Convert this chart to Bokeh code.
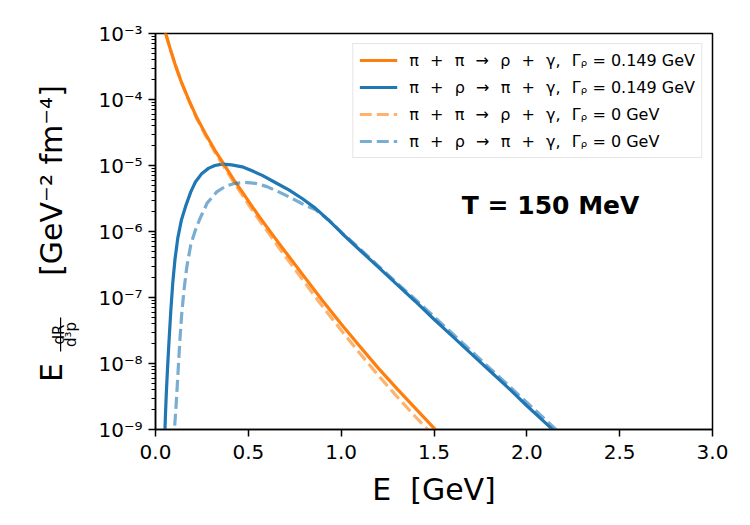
import math
from bokeh.plotting import figure
from bokeh.layouts import row
from bokeh.models import FixedTicker, CustomJSTickFormatter, Label, Legend, LegendItem
from bokeh.core.properties import value
from bokeh.embed import file_html
from bokeh.resources import INLINE

# ---------------- data ----------------
# pi + pi -> rho + gamma, Gamma_rho = 0.149 GeV
E_pipi = [0.03, 0.055, 0.08, 0.108, 0.14, 0.18, 0.22, 0.269, 0.32, 0.368, 0.42,
          0.467, 0.509, 0.56, 0.628, 0.7, 0.8, 0.9, 1.0, 1.1, 1.2, 1.3, 1.4, 1.5, 1.6]
R_pipi_w = [1.78e-3, 1.0e-3, 5.75e-4, 3.24e-4, 1.82e-4, 9.77e-5, 5.5e-5, 3.02e-5,
            1.70e-5, 1.05e-5, 6.17e-6, 3.98e-6, 2.66e-6, 1.66e-6, 9.12e-7, 4.9e-7,
            2.09e-7, 8.91e-8, 3.98e-8, 1.82e-8, 8.51e-9, 4.17e-9, 2.09e-9, 1.05e-9, 5.5e-10]
# pi + pi -> rho + gamma, Gamma_rho = 0
R_pipi_0 = [1.78e-3, 1.0e-3, 5.75e-4, 3.24e-4, 1.82e-4, 9.55e-5, 5.31e-5, 2.88e-5,
            1.59e-5, 9.66e-6, 5.62e-6, 3.60e-6, 2.37e-6, 1.47e-6, 7.94e-7, 4.17e-7,
            1.74e-7, 7.30e-8, 3.20e-8, 1.43e-8, 6.61e-9, 3.16e-9, 1.56e-9, 7.94e-10, 4.0e-10]

# pi + rho -> pi + gamma, Gamma_rho = 0.149 GeV
E_pirho_w = [0.048, 0.051, 0.054, 0.058, 0.064, 0.072, 0.082, 0.093, 0.105, 0.12,
             0.14, 0.162, 0.19, 0.215, 0.25, 0.287, 0.32, 0.359, 0.41, 0.467,
             0.52, 0.575, 0.64, 0.718, 0.79, 0.862, 0.93, 1.005, 1.1, 1.2,
             1.3, 1.4, 1.5, 1.6, 1.7, 1.8, 1.9, 2.0, 2.1, 2.2]
R_pirho_w = [5.01e-10, 1.0e-9, 1.78e-9, 3.39e-9, 7.59e-9, 2.0e-8, 6.03e-8, 1.66e-7, 3.80e-7, 7.94e-7,
             1.51e-6, 2.40e-6, 3.98e-6, 5.62e-6, 7.59e-6, 9.12e-6, 1.0e-5, 1.05e-5, 1.02e-5, 9.55e-6,
             8.32e-6, 7.08e-6, 5.62e-6, 4.27e-6, 3.16e-6, 2.24e-6, 1.51e-6, 9.33e-7, 5.25e-7, 2.88e-7,
             1.58e-7, 8.71e-8, 4.68e-8, 2.57e-8, 1.41e-8, 7.76e-9, 4.27e-9, 2.29e-9, 1.26e-9, 6.92e-10]
# pi + rho -> pi + gamma, Gamma_rho = 0
E_pirho_0 = [0.098, 0.102, 0.110, 0.118, 0.125, 0.132, 0.142, 0.155, 0.168, 0.19,
             0.215, 0.24, 0.278, 0.33, 0.38, 0.431, 0.48, 0.539, 0.6, 0.664,
             0.73, 0.79, 0.862, 0.93, 1.005, 1.1, 1.2, 1.3, 1.4, 1.5,
             1.6, 1.7, 1.8, 1.9, 2.0, 2.1, 2.2]
R_pirho_0 = [6.31e-10, 1.0e-9, 2.09e-9, 5.01e-9, 1.12e-8, 2.40e-8, 6.03e-8, 1.41e-7, 2.82e-7, 6.31e-7,
             1.05e-6, 1.58e-6, 2.69e-6, 3.98e-6, 4.90e-6, 5.37e-6, 5.56e-6, 5.37e-6, 4.79e-6, 3.98e-6,
             3.24e-6, 2.63e-6, 2.14e-6, 1.51e-6, 9.55e-7, 5.50e-7, 3.02e-7, 1.66e-7, 9.33e-8, 5.13e-8,
             2.82e-8, 1.55e-8, 8.51e-9, 4.68e-9, 2.57e-9, 1.41e-9, 7.76e-10]

SP = "\u2002\u2009"  # en + thin space, mimics math spacing
legend_labels = [
    SP.join(["\u03c0", "+", "\u03c0", "\u2192", "\u03c1", "+", "\u03b3,", "\u0393\u1d68 = 0.149 GeV"]),
    SP.join(["\u03c0", "+", "\u03c1", "\u2192", "\u03c0", "+", "\u03b3,", "\u0393\u1d68 = 0.149 GeV"]),
    SP.join(["\u03c0", "+", "\u03c0", "\u2192", "\u03c1", "+", "\u03b3,", "\u0393\u1d68 = 0 GeV"]),
    SP.join(["\u03c0", "+", "\u03c1", "\u2192", "\u03c0", "+", "\u03b3,", "\u0393\u1d68 = 0 GeV"]),
]

x_ticks = [0.0, 0.5, 1.0, 1.5, 2.0, 2.5, 3.0]
x_tick_labels = ["0.0", "0.5", "1.0", "1.5", "2.0", "2.5", "3.0"]
y_ticks = [1e-9, 1e-8, 1e-7, 1e-6, 1e-5, 1e-4, 1e-3]
y_tick_labels = ["10\u207b\u2079", "10\u207b\u2078", "10\u207b\u2077", "10\u207b\u2076",
                 "10\u207b\u2075", "10\u207b\u2074", "10\u207b\u00b3"]

temperature_text = "T = 150 MeV"
x_label = "E \u00a0[GeV]"
y_title_parts = ["E", "dR", "d\u00b3p", "[GeV\u207b\u00b2 fm\u207b\u2074]"]

ORANGE = "#ff7f0e"
BLUE = "#1f77b4"
FONT = "DejaVu Sans"
TW = 90           # width of the y-title strip
H = 525
TOP, BOTTOM = 33, 96

# ---------------- y-axis title strip (coordinates: px from left, px from page bottom) ----
t = figure(width=TW, height=H, x_range=(0, TW), y_range=(BOTTOM, H - TOP),
           output_backend="svg", toolbar_location=None,
           min_border_left=0, min_border_right=0,
           min_border_top=TOP, min_border_bottom=BOTTOM,
           x_axis_location=None, y_axis_location=None)
t.outline_line_color = None
t.xgrid.visible = False
t.ygrid.visible = False
t.background_fill_color = "white"
t.border_fill_color = "white"
ang = math.pi / 2
t.text(x=[51], y=[H - 372], text=[y_title_parts[0]], angle=ang, text_align="center",
       text_baseline="alphabetic", text_font=value(FONT), text_font_size="30px",
       text_color="black")
t.text(x=[58.5], y=[H - 334], text=[y_title_parts[1]], angle=ang, text_align="center",
       text_baseline="alphabetic", text_font=value(FONT), text_font_size="15px",
       text_color="black")
t.text(x=[61.5], y=[H - 334], text=[y_title_parts[2]], angle=ang, text_align="center",
       text_baseline="top", text_font=value(FONT), text_font_size="15px",
       text_color="black")
t.segment(x0=[60.1], y0=[H - 351], x1=[60.1], y1=[H - 317], line_color="black",
          line_width=1.2)
t.text(x=[51], y=[H - 180], text=[y_title_parts[3]], angle=ang, text_align="center",
       text_baseline="alphabetic", text_font=value(FONT), text_font_size="30px",
       text_color="black")

# ---------------- main figure ----------------
p = figure(width=750 - TW, height=H, y_axis_type="log",
           x_range=(0, 3), y_range=(1e-9, 1e-3),
           output_backend="svg", toolbar_location=None,
           min_border_left=155 - TW, min_border_right=38,
           min_border_top=TOP, min_border_bottom=BOTTOM)
p.background_fill_color = "white"
p.border_fill_color = "white"
p.xgrid.visible = False
p.ygrid.visible = False
p.outline_line_color = "black"
p.outline_line_width = 1.5
p.outline_line_alpha = 1.0

r1 = p.line(E_pipi, R_pipi_w, line_color=ORANGE, line_width=3.2)
r2 = p.line(E_pirho_w, R_pirho_w, line_color=BLUE, line_width=3.2)
r3 = p.line(E_pipi, R_pipi_0, line_color=ORANGE, line_width=3.2, line_alpha=0.6,
            line_dash="12 5")
r4 = p.line(E_pirho_0, R_pirho_0, line_color=BLUE, line_width=3.2, line_alpha=0.6,
            line_dash="12 5")

fmt_code = """
let best = 0, bd = Infinity;
for (let i = 0; i < tv.length; i++) {
  const d = LOGMODE ? Math.abs(Math.log10(tick) - Math.log10(tv[i])) : Math.abs(tick - tv[i]);
  if (d < bd) { bd = d; best = i; }
}
return tl[best];
"""
p.xaxis.ticker = FixedTicker(ticks=x_ticks)
p.xaxis.formatter = CustomJSTickFormatter(args=dict(tv=x_ticks, tl=x_tick_labels),
                                          code=fmt_code.replace("LOGMODE", "false"))
minor = [k * 10.0 ** n for n in range(-9, -3) for k in range(2, 10)]
p.yaxis.ticker = FixedTicker(ticks=y_ticks, minor_ticks=minor)
p.yaxis.formatter = CustomJSTickFormatter(args=dict(tv=y_ticks, tl=y_tick_labels),
                                          code=fmt_code.replace("LOGMODE", "true"))

for ax in (p.xaxis[0], p.yaxis[0]):
    ax.axis_line_color = "black"
    ax.axis_line_width = 1.5
    ax.major_tick_line_color = "black"
    ax.major_tick_line_width = 1.5
    ax.major_tick_in = 0
    ax.major_tick_out = 7
    ax.minor_tick_in = 0
    ax.minor_tick_out = 4
    ax.minor_tick_line_color = "black"
    ax.minor_tick_line_width = 1
    ax.major_label_text_font = FONT
    ax.major_label_text_font_size = "20px"
    ax.major_label_text_color = "black"
p.xaxis.minor_tick_line_color = None
p.xaxis.major_label_standoff = 8
p.yaxis.major_label_standoff = 6

p.xaxis.axis_label = x_label
p.xaxis.axis_label_text_font = FONT
p.xaxis.axis_label_text_font_size = "30px"
p.xaxis.axis_label_text_font_style = "normal"
p.xaxis.axis_label_text_color = "black"
p.xaxis.axis_label_standoff = 10

p.add_layout(Label(x=1.65, y=2.48e-6, text=temperature_text, text_font=FONT,
                   text_font_size="25px", text_font_style="bold", text_color="black",
                   text_align="left", text_baseline="alphabetic"))

legend = Legend(items=[LegendItem(label=legend_labels[0], renderers=[r1]),
                       LegendItem(label=legend_labels[1], renderers=[r2]),
                       LegendItem(label=legend_labels[2], renderers=[r3]),
                       LegendItem(label=legend_labels[3], renderers=[r4])],
                location="top_right")
legend.margin = 10
legend.padding = 6
legend.spacing = 7
legend.glyph_width = 38
legend.glyph_height = 20
legend.label_standoff = 12
legend.label_text_font = FONT
legend.label_text_font_size = "16px"
legend.label_text_color = "black"
legend.border_line_color = "#cccccc"
legend.border_line_width = 1
legend.background_fill_alpha = 0.8
p.add_layout(legend)

layout = row(t, p, spacing=0)
open("out.html", "w").write(file_html(layout, INLINE))
